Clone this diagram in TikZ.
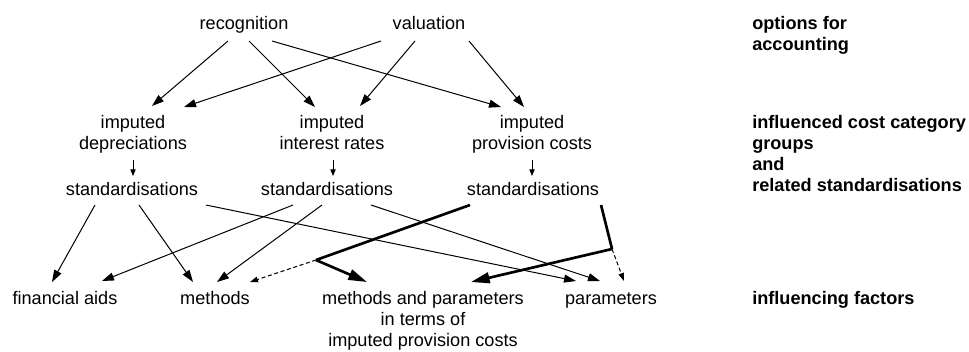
\documentclass[tikz,border=0pt]{standalone}
\usepackage{fontspec}
\setmainfont{Liberation Sans}
\usetikzlibrary{arrows.meta,calc}
\begin{document}
\begin{tikzpicture}[x=0.75pt,y=-0.75pt,
  lbl/.style={inner sep=0pt,anchor=base,align=center,font=\fontsize{13.6pt}{15.75pt}\selectfont},
  side/.style={inner sep=0pt,anchor=base west,align=left,font=\fontsize{13.6pt}{15.75pt}\selectfont\bfseries},
  conn/.style={line width=0.75pt,-{Triangle[length=9pt,width=6pt]}},
  heavy/.style={line width=2pt,line join=miter},
  heavyarrow/.style={line width=2pt,-{Triangle[length=14pt,width=8pt]}},
  dashconn/.style={line width=0.75pt,dash pattern=on 3pt off 2pt,-{Triangle[length=6pt,width=4.2pt]}},
  tinyarrow/.style={line width=0.75pt,-{Triangle[length=5pt,width=4pt]}}
]
\useasboundingbox (0,0) rectangle (969,351);
% top row (base = baseline of the last line)
\node[lbl] (rec) at (244,29) {recognition};
\node[lbl] (val) at (429,29) {valuation};
\node[side] (optl) at (752,50) {options for\\accounting};
% cost category groups
\node[lbl] (dep) at (133,149) {imputed\\depreciations};
\node[lbl] (int) at (332,149) {imputed\\interest rates};
\node[lbl] (prov) at (532,149) {imputed\\provision costs};
\node[side] (catl) at (752,191) {influenced cost category\\groups\\and\\related standardisations};
% standardisations
\node[lbl] (std1) at (132,195) {standardisations};
\node[lbl] (std2) at (327,195) {standardisations};
\node[lbl] (std3) at (533,195) {standardisations};
% influencing factors
\node[lbl] (fin) at (65,304) {financial aids};
\node[lbl] (meth) at (215,304) {methods};
\node[lbl] (mp) at (423,346) {methods and parameters\\in terms of\\imputed provision costs};
\node[lbl] (par) at (611,304) {parameters};
\node[side] (facl) at (752,304) {influencing factors};
% junctions
\coordinate (J1) at (316,260);
\coordinate (J2) at (612,249);
% top arrows
\draw[conn] ($(rec.base)+(-16,12)$) -- ($(dep.base)+(19,-43)$);
\draw[conn] ($(rec.base)+(5,12)$) -- ($(int.base)+(-17,-42)$);
\draw[conn] ($(rec.base)+(28,12)$) -- ($(prov.base)+(-31,-42)$);
\draw[conn] ($(val.base)+(-48,12)$) -- ($(dep.base)+(51,-42)$);
\draw[conn] ($(val.base)+(-14,12)$) -- ($(int.base)+(28,-43)$);
\draw[conn] ($(val.base)+(40,12)$) -- ($(prov.base)+(-8,-42)$);
% small vertical arrows
\draw[tinyarrow] ($(dep.base)+(0,11)$) -- ($(std1.base)+(1,-19)$);
\draw[tinyarrow] ($(int.base)+(1,11)$) -- ($(std2.base)+(6,-19)$);
\draw[tinyarrow] ($(prov.base)+(0,11)$) -- ($(std3.base)+(-1,-19)$);
% standardisations to factors
\draw[conn] ($(std1.base)+(-37,10)$) -- ($(fin.base)+(-13,-22)$);
\draw[conn] ($(std1.base)+(7,10)$) -- ($(meth.base)+(-22,-22)$);
\draw[conn] ($(std1.base)+(74,10)$) -- ($(par.base)+(-35,-23)$);
\draw[conn] ($(std2.base)+(-34,10)$) -- ($(fin.base)+(37,-23)$);
\draw[conn] ($(std2.base)+(-5,10)$) -- ($(meth.base)+(2,-22)$);
\draw[conn] ($(std2.base)+(44,10)$) -- ($(par.base)+(-11,-23)$);
% provision cost standardisations
\draw[heavy] ($(std3.base)+(-63,10)$) -- (J1);
\draw[heavyarrow] (J1) -- ($(mp.base)+(-56,-64)$);
\draw[dashconn] (J1) -- ($(meth.base)+(35,-22)$);
\draw[heavy] ($(std3.base)+(68,10)$) -- (J2);
\draw[heavyarrow] (J2) -- ($(mp.base)+(48,-64)$);
\draw[dashconn] (J2) -- ($(par.base)+(13,-23)$);
\end{tikzpicture}
\end{document}
